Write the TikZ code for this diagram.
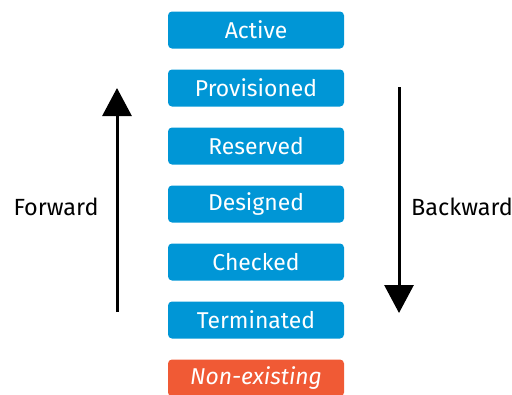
\documentclass[tikz,border=0pt]{standalone}
\usepackage{fontspec}
\setmainfont{Fira Sans}
\usetikzlibrary{arrows.meta}
\definecolor{stateblue}{HTML}{0096D6}
\definecolor{stateorange}{HTML}{F05A35}
\begin{document}
\begin{tikzpicture}[x=1bp,y=-1bp,
  state/.style={fill=stateblue, rounded corners=4bp, minimum width=176bp,
    minimum height=37bp, inner sep=0pt, text=white, font=\fontsize{23}{26}\selectfont},
  origin/.style={state, fill=stateorange, font=\fontsize{23}{26}\selectfont\itshape},
  dirlabel/.style={font=\fontsize{23.5}{26}\selectfont, text=black},
  flow/.style={line width=3bp, -{Triangle[length=28bp,width=29bp]}}]
  \useasboundingbox (0,0) rectangle (512,394);
  % lifecycle states, top to bottom
  \node[state] (active) at (256,30) {Active};
  \node[state] (prov) at (256,88) {Provisioned};
  \node[state] (res) at (256,146) {Reserved};
  \node[state] (des) at (256,204) {Designed};
  \node[state] (chk) at (256,262) {Checked};
  \node[state] (term) at (256,320) {Terminated};
  \node[origin] (none) at (256,378) {Non-existing};
  % direction arrows
  \coordinate (fwdfrom) at (117,312);
  \coordinate (fwdto) at (117,88);
  \coordinate (bwdfrom) at (399,87);
  \coordinate (bwdto) at (399,313);
  \draw[flow] (fwdfrom) -- (fwdto);
  \draw[flow] (bwdfrom) -- (bwdto);
  \node[dirlabel] (fwd) at (56,207) {Forward};
  \node[dirlabel] (bwd) at (462,207) {Backward};
\end{tikzpicture}
\end{document}
